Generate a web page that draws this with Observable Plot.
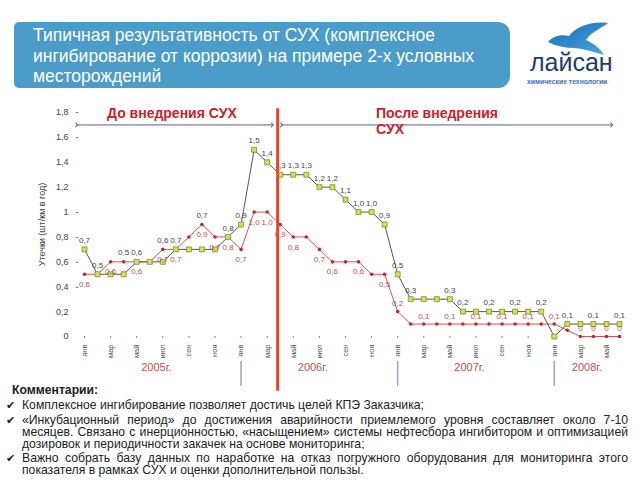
<!DOCTYPE html>
<html><head><meta charset="utf-8">
<script src="https://cdn.jsdelivr.net/npm/d3@7"></script>
<script src="https://cdn.jsdelivr.net/npm/@observablehq/plot@0.6"></script>
<style>
body{margin:0;background:#fff;}
#page{position:relative;width:640px;height:480px;overflow:hidden;font-family:"Liberation Sans",Arial,sans-serif;}
#chart{position:absolute;left:0;top:0;}
.hdr{position:absolute;left:14px;top:22px;width:496px;height:66px;background:#4b9cc8;border-radius:5px 12px 12px 5px;color:#fff;font-family:"Liberation Sans Narrow","Arial Narrow","Liberation Sans",sans-serif;font-size:17.5px;line-height:20.5px;padding:3px 0 0 19px;box-sizing:border-box;white-space:nowrap;}
.logo{position:absolute;left:520px;top:18px;width:110px;height:72px;}
.logo .name{position:absolute;left:10px;top:30px;font-size:25px;color:#1e3c74;line-height:28px;white-space:nowrap;}
.logo .sub{position:absolute;left:7px;top:60px;font-size:6.8px;font-weight:bold;color:#3d6fc2;white-space:nowrap;line-height:8px;}
.ann{position:absolute;color:#cc2229;font-weight:bold;font-size:14px;line-height:16px;}
.cm{position:absolute;left:6px;top:384px;width:622px;font-size:12.2px;line-height:12px;color:#222;}
.cm .t{font-weight:bold;margin-left:6px;margin-bottom:3px;}
.cm p{margin:0 0 2.5px 0;text-align:justify;padding-left:16px;position:relative;}
.ck{position:absolute;left:0;top:0;font-size:11px;color:#222;}
</style></head>
<body><div id="page">
<div id="chart"></div>
<div class="hdr">Типичная результативность от СУХ (комплексное<br>ингибирование от коррозии) на примере 2-х условных<br>месторождений</div>
<div class="logo">
<svg width="110" height="40" viewBox="0 0 110 40" style="position:absolute;left:0;top:0">
<defs><linearGradient id="bg" x1="0" y1="0" x2="1" y2="1"><stop offset="0" stop-color="#1a6cb6"/><stop offset="1" stop-color="#48a6de"/></linearGradient></defs>
<path d="M28,24 C33,18 41,16 49,18 C56,9 70,3 88,5 C84,9 72,13 66,22 C73,25 80,30 84,37 C74,34 64,31 55,30 C45,30 36,28 28,24 Z" fill="url(#bg)"/>
</svg>
<div class="name">лайсан</div>
<div class="sub">химические технологии</div>
</div>
<div class="ann" style="left:107px;top:105px;">До внедрения СУХ</div>
<div class="ann" style="left:376px;top:105px;">После внедрения<br>СУХ</div>
<div class="cm">
<div class="t">Комментарии:</div>
<p><span class="ck">✔</span>Комплексное ингибирование позволяет достичь целей КПЭ Заказчика;</p>
<p><span class="ck">✔</span>«Инкубационный период» до достижения аварийности приемлемого уровня составляет около 7-10 месяцев. Связано с инерционностью, «насыщением» системы нефтесбора ингибитором и оптимизацией дозировок и периодичности закачек на основе мониторинга;</p>
<p><span class="ck">✔</span>Важно собрать базу данных по наработке на отказ погружного оборудования для мониторинга этого показателя в рамках СУХ и оценки дополнительной пользы.</p>
</div>
</div>
<script>
// month index 0 = янв 2005 ... 41 = июн 2008
const monthIndex = d3.range(42);
const tickLabels = ["янв","мар","май","июл","сен","ноя"];
const tickIndex = d3.range(0, 42, 2);
const yearLabels = ["2005г.","2006г.","2007г.","2008г."];
const yearCenters = [5.5, 17.5, 29.5, 38.5];
const yearStarts = [12, 24, 36];
const yTicks = [0,0.2,0.4,0.6,0.8,1,1.2,1.4,1.6,1.8];
const yDashTicks = [0.4,0.6,0.8,1,1.6,1.8];

// gray line with green squares
const seriesA = [0.7,0.5,0.5,0.5,0.6,0.6,0.6,0.7,0.7,0.7,0.7,0.8,
                 0.9,1.5,1.4,1.3,1.3,1.3,1.2,1.2,1.1,1.0,1.0,0.9,
                 0.5,0.3,0.3,0.3,0.3,0.2,0.2,0.2,0.2,0.2,0.2,0.2,
                 0.0,0.1,0.1,0.1,0.1,0.1];
const labelsA = ["0,7","0,5","","0,5","0,6","","0,6","0,7","","0,7","","0,8",
                 "0,9","1,5","1,4","1,3","1,3","1,3","1,2","1,2","1,1","1,0","1,0","0,9",
                 "0,5","0,3","","","0,3","0,2","","0,2","","0,2","","0,2",
                 "","0,1","","0,1","","0,1"];
// red line with dots
const seriesB = [0.5,0.5,0.6,0.6,0.6,0.6,0.7,0.7,0.8,0.9,0.8,0.8,
                 0.7,1.0,1.0,0.9,0.8,0.8,0.7,0.6,0.6,0.6,0.5,0.5,
                 0.2,0.1,0.1,0.1,0.1,0.1,0.1,0.1,0.1,0.1,0.1,0.1,
                 0.1,0.05,0,0,0,0];
const labelsB = ["0,6","","0,6","","0,6","","0,7","0,7","","0,9","0,7","0,8",
                 "0,7","1,0","1,0","0,9","0,8","","0,7","0,6","","0,6","","0,5",
                 "0,2","","0,1","","0,1","","0,1","","0,1","","0,1","",
                 "0,1","","0","0","0","0"];

const splitIndex = 14.8;          // внедрение СУХ
const splitSpan = [-0.44, 1.83];
const sepSpan = [-0.2, -0.4];
const arrowLevel = 1.70;
const arrowsBefore = [-0.6, 14.4];
const arrowsAfter = [15.1, 40.4];

const fmt = v => String(v).replace(".", ",");

const chart = Plot.plot({
  width: 640, height: 400,
  marginLeft: 84, marginRight: 21, marginTop: 112, marginBottom: 64,
  x: {domain: [0, 41]},
  y: {domain: [0, 1.8]},
  style: {fontFamily: '"Liberation Sans", Arial, sans-serif', background: "transparent", overflow: "visible"},
  marks: [
    Plot.axisY(yTicks, {tickSize: 0, tickPadding: 16, tickFormat: fmt, fontSize: 9, fill: "#444",
      label: "Утечки (шт/км в год)", labelAnchor: "center", labelArrow: "none", labelOffset: 46}),
    Plot.axisY(yDashTicks, {tickSize: 0, tickPadding: 6, tickFormat: () => "-", fontSize: 9, fill: "#444", label: null}),
    Plot.axisX(tickIndex, {tickFormat: i => tickLabels[(i / 2) % 6], tickRotate: -90, tickSize: 2, tickPadding: 6,
      fontSize: 7.5, fill: "#555", stroke: "#888", label: null}),
    Plot.link([0], {x1: arrowsBefore[0], x2: arrowsBefore[1], y1: arrowLevel, y2: arrowLevel,
      stroke: "#56618f", strokeWidth: 1, markerStart: "arrow", markerEnd: "arrow"}),
    Plot.link([0], {x1: arrowsAfter[0], x2: arrowsAfter[1], y1: arrowLevel, y2: arrowLevel,
      stroke: "#56618f", strokeWidth: 1, markerStart: "arrow", markerEnd: "arrow"}),
    Plot.ruleX(yearStarts, {y1: sepSpan[0], y2: sepSpan[1], stroke: "#9ca0b8", strokeWidth: 1.5}),
    Plot.text(yearLabels, {x: (d, i) => yearCenters[i], frameAnchor: "bottom", dy: 34, fill: "#c0504d", fontSize: 11}),
    Plot.line(monthIndex, {x: i => i, y: i => seriesB[i], stroke: "#d45555", strokeWidth: 1}),
    Plot.line(monthIndex, {x: i => i, y: i => seriesA[i], stroke: "#555", strokeWidth: 1}),
    Plot.dot(monthIndex, {x: i => i, y: i => seriesB[i], r: 1.8, fill: "#c0282d"}),
    Plot.dot(monthIndex, {x: i => i, y: i => seriesA[i], symbol: "square", r: 2.8, fill: "#d4e05a", stroke: "#7f8f2a", strokeWidth: 0.8}),
    // gray-series labels sit above whichever line is higher at that month
    Plot.text(monthIndex.filter(i => labelsA[i]), {x: i => i, y: i => Math.max(seriesA[i], seriesB[i]), text: i => labelsA[i], dy: -9, fontSize: 8, fill: "#444"}),
    Plot.text(monthIndex.filter(i => labelsB[i] && i < 24), {x: i => i, y: i => seriesB[i], text: i => labelsB[i], dy: 10, fontSize: 8, fill: "#c0504d"}),
    Plot.text(monthIndex.filter(i => labelsB[i] && i >= 24), {x: i => i, y: i => seriesB[i], text: i => labelsB[i], dy: -8, fontSize: 8, fill: "#c0504d"}),
    Plot.ruleX([splitIndex], {y1: splitSpan[0], y2: splitSpan[1], stroke: "#e8462a", strokeWidth: 3})
  ]
});
document.getElementById("chart").appendChild(chart);
</script>
</body></html>
